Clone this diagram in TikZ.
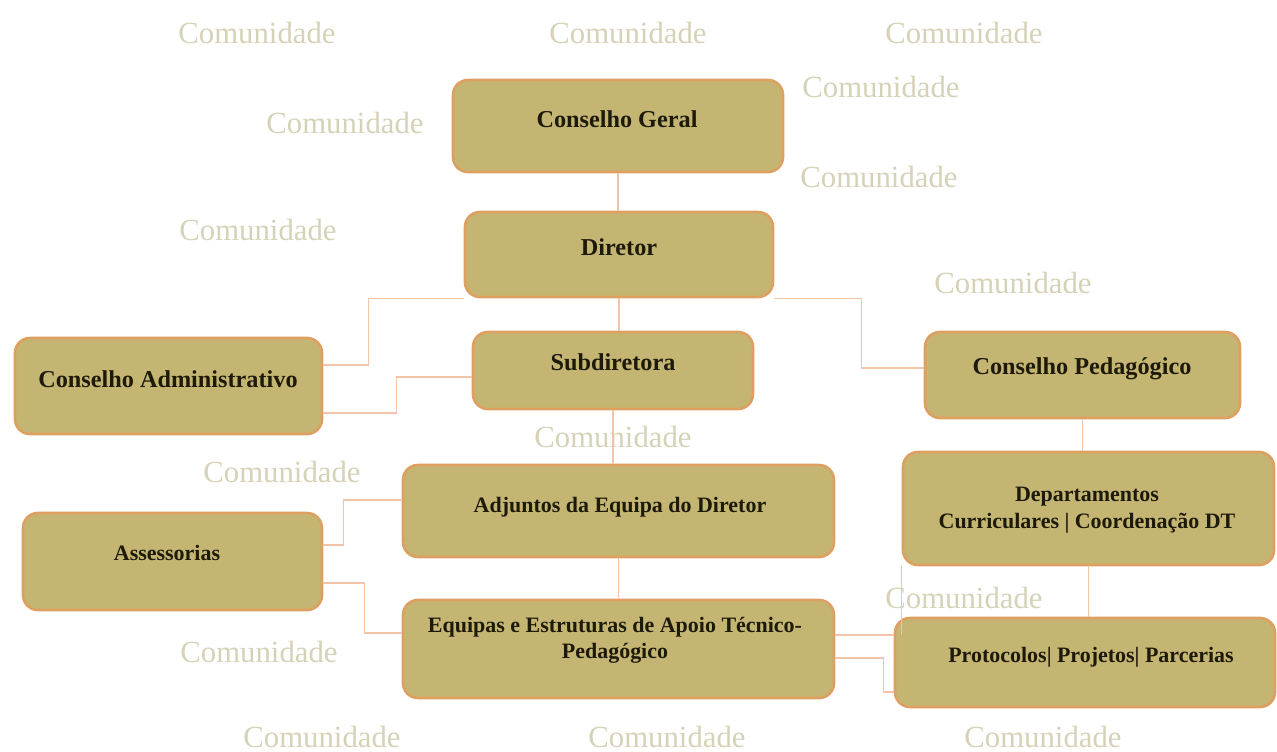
\documentclass[tikz,border=0pt]{standalone}
\usepackage{fontspec}
\setmainfont{Liberation Serif}
\usepackage{tikz}
\usetikzlibrary{positioning, calc}
\usepackage{xcolor}
\definecolor{boxfill}{RGB}{196,182,114}
\definecolor{boxline}{RGB}{222,160,96}
\definecolor{linkcol}{RGB}{242,196,170}
\definecolor{commcol}{RGB}{214,210,184}
\definecolor{txtcol}{RGB}{30,26,10}

\begin{document}
\begin{tikzpicture}[
    box/.style={draw=boxline, line width=1.5pt, fill=boxfill, rounded corners=0.3cm, inner sep=0pt},
    txt/.style={text=txtcol, font=\bfseries\fontsize{12.5}{15}\selectfont, inner sep=0pt},
    bigtxt/.style={txt, font=\bfseries\fontsize{13.8}{16}\selectfont},
    oneline/.style={text height=8.5pt, text depth=0pt},
    commu/.style={text=commcol, font=\fontsize{17.5}{20}\selectfont, inner sep=0pt, text height=11.5pt, text depth=0pt},
    link/.style={draw=linkcol, line width=0.9pt}]
    \useasboundingbox (0,0) rectangle (25.54,-15.04);

    \node[commu] (c1) at (5.14,-0.66) {Comunidade};
    \node[commu] (c2) at (12.56,-0.66) {Comunidade};
    \node[commu] (c3) at (19.28,-0.66) {Comunidade};
    \node[commu] (c4) at (17.62,-1.74) {Comunidade};
    \node[commu] (c5) at (6.90,-2.47) {Comunidade};
    \node[commu] (c6) at (17.58,-3.54) {Comunidade};
    \node[commu] (c7) at (5.16,-4.60) {Comunidade};
    \node[commu] (c8) at (20.26,-5.67) {Comunidade};
    \node[commu] (c9) at (12.26,-8.75) {Comunidade};
    \node[commu] (c10) at (5.64,-9.45) {Comunidade};
    \node[commu] (c11) at (19.28,-11.96) {Comunidade};
    \node[commu] (c12) at (5.18,-13.04) {Comunidade};
    \node[commu] (c13) at (6.44,-14.74) {Comunidade};
    \node[commu] (c14) at (13.34,-14.74) {Comunidade};
    \node[commu] (c15) at (20.86,-14.74) {Comunidade};

    \node[box, minimum width=6.6cm, minimum height=1.84cm] (geral) at (12.36,-2.52) {};
    \node[box, minimum width=6.16cm, minimum height=1.70cm] (dir) at (12.38,-5.09) {};
    \node[box, minimum width=5.6cm, minimum height=1.54cm] (sub) at (12.26,-7.41) {};
    \node[box, minimum width=6.14cm, minimum height=1.92cm] (adm) at (3.37,-7.72) {};
    \node[box, minimum width=6.3cm, minimum height=1.72cm] (ped) at (21.65,-7.50) {};
    \node[box, minimum width=8.62cm, minimum height=1.84cm] (adj) at (12.37,-10.22) {};
    \node[box, minimum width=5.98cm, minimum height=1.94cm] (ass) at (3.45,-11.23) {};
    \node[box, minimum width=7.42cm, minimum height=2.26cm] (dep) at (21.77,-10.17) {};
    \node[box, minimum width=8.62cm, minimum height=1.96cm] (equ) at (12.37,-12.98) {};
    \node[box, minimum width=7.6cm, minimum height=1.78cm] (pro) at (21.70,-13.25) {};

    \node[bigtxt, oneline] (geraltxt) at (12.34,-2.40) {Conselho Geral};
    \node[bigtxt, oneline] (dirtxt) at (12.38,-4.96) {Diretor};
    \node[bigtxt, oneline] (subtxt) at (12.26,-7.26) {Subdiretora};
    \node[bigtxt, oneline] (admtxt) at (3.36,-7.60) {Conselho Administrativo};
    \node[bigtxt, oneline] (pedtxt) at (21.64,-7.34) {Conselho Pedagógico};
    \node[txt, oneline] (adjtxt) at (12.40,-10.10) {Adjuntos da Equipa do Diretor};
    \node[txt, oneline] (asstxt) at (3.34,-11.06) {Assessorias};
    \node[txt, align=center] (deptxt) at (21.74,-10.20) {Departamentos\\Curriculares | Coordenação DT};
    \node[txt, align=center] (equtxt) at (12.30,-12.80) {Equipas e Estruturas de Apoio Técnico-\\Pedagógico};
    \node[txt, oneline] (protxt) at (21.82,-13.10) {Protocolos| Projetos| Parcerias};

    \coordinate (pjoin) at ([yshift=0.55cm]pro.west);

    \path[link]
        (geral.south) edge (geral.south |- dir.north)
        (dir.south) edge (dir.south |- sub.north)
        (sub.south) edge (sub.south |- adj.north)
        (adj.south) edge (adj.south |- equ.north)
        (ped.south) edge (ped.south |- dep.north)
        (dep.south) edge (dep.south |- pro.north);

    \draw[link] (dir.south west) -- ++(-1.9,0) |- ([yshift=0.42cm]adm.east);
    \draw[link] ([yshift=-0.13cm]sub.west) -- ++(-1.5,0) |- ([yshift=-0.54cm]adm.east);
    \draw[link] (dir.south east) -- ++(1.74,0) |- ([yshift=0.14cm]ped.west);
    \draw[link] ([yshift=0.33cm]ass.east) -- ++(0.4,0) |- ([yshift=0.22cm]adj.west);
    \draw[link] ([yshift=-0.43cm]ass.east) -- ++(0.82,0) |- ([yshift=0.32cm]equ.west);
    \draw[link] ([yshift=0.28cm]equ.east) -- (pjoin);
    \draw[link] ([yshift=-0.18cm]equ.east) -- ++(0.96,0) |- ([yshift=-0.59cm]pro.west);
    \draw[link] (dep.south west) -- (dep.south west |- pjoin);
\end{tikzpicture}
\end{document}
